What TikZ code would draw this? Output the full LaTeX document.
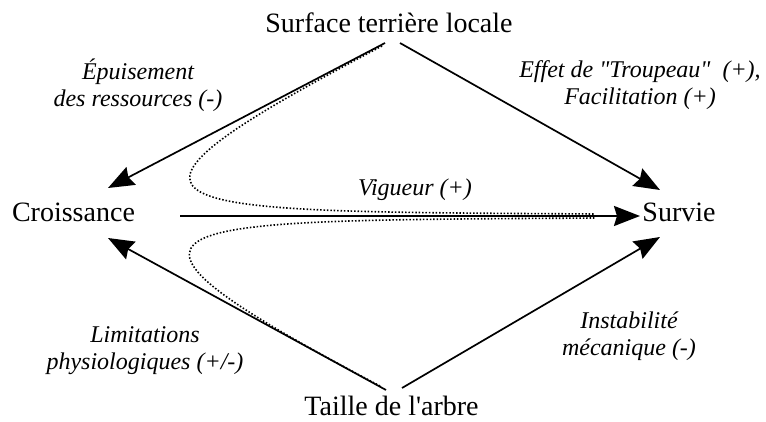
\documentclass[tikz,border=0pt]{standalone}
\usepackage{fontspec}
\setmainfont{Liberation Serif}[Ligatures=TeXOff]
\usetikzlibrary{arrows.meta,calc}
\tikzset{
  >={Stealth[length=26pt,width=20pt,inset=3pt]},
  term/.style={anchor=base,inner sep=0pt,font=\fontsize{28}{30}\selectfont},
  lab/.style={align=center,inner sep=0pt,font=\fontsize{24}{27}\selectfont\itshape},
  arr/.style={->,line width=1.7pt},
  harr/.style={arr,line width=2.2pt},
  darr/.style={line width=1.6pt,dash pattern=on 1.5pt off 1.9pt},
}
\begin{document}
\begin{tikzpicture}[x=1pt,y=1pt]
\useasboundingbox (0,0) rectangle (766,421);
\node[term] (surf) at (389,388) {Surface terrière locale};
\node[term] (crois) at (73.5,199) {Croissance};
\node[term] (surv) at (679,199) {Survie};
\node[term] (taille) at (391.5,6) {Taille de l'arbre};
% effets directs
\draw[arr] ($(surf.base)+(-4,-10)$) -- ($(crois.base)+(34.5,34)$);
\draw[arr] ($(surf.base)+(11,-10)$) -- ($(surv.base)+(-19,32)$);
\draw[arr] ($(taille.base)+(-5.5,25)$) -- ($(crois.base)+(34.5,-16)$);
\draw[arr] ($(taille.base)+(10.5,27)$) -- ($(surv.base)+(-19,-15)$);
\draw[harr] ($(crois.base)+(106.5,6)$) -- ($(surv.base)+(-39,6)$);
% interactions (pointilles)
\coordinate (mrgT) at ($(surv.base)+(-84,8)$);
\coordinate (mrgB) at ($(surv.base)+(-84,4)$);
\draw[darr] ($(surf.base)+(-7,-13)$) .. controls (60,206) and (150,210) .. (mrgT);
\draw[darr] ($(taille.base)+(-11.5,29)$) .. controls (60,204) and (150,200) .. (mrgB);
% etiquettes
\node[lab] (epuis) at (138,336) {Épuisement\\des ressources (-)};
\node[lab] (effet) at (640,336) {Effet de "Troupeau"\ \ (+),\\Facilitation (+)};
\node[lab] (vig) at (415,231) {Vigueur (+)};
\node[lab] (limit) at (145,70) {Limitations\\physiologiques (+/-)};
\node[lab] (instab) at (629,84.5) {Instabilité\\mécanique (-)};
\end{tikzpicture}
\end{document}
